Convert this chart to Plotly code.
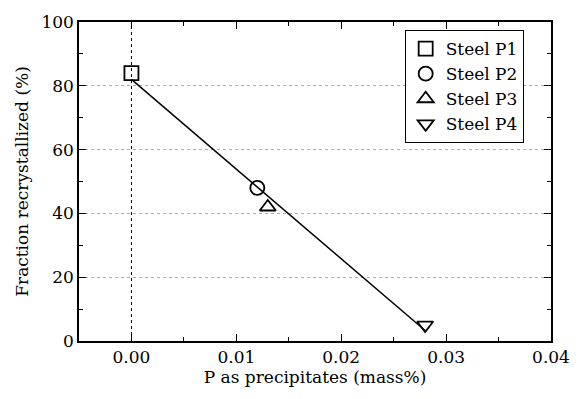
import numpy as np
import plotly.graph_objects as go

# Data
steels = ["Steel P1", "Steel P2", "Steel P3", "Steel P4"]
p_precip = [0.0, 0.012, 0.013, 0.028]
frac_rex = [84, 48, 42, 5]
symbols = ["square-open", "circle-open", "triangle-up-open", "triangle-down-open"]

x_ticks = [0.00, 0.01, 0.02, 0.03, 0.04]
x_ticklabels = ["0.00", "0.01", "0.02", "0.03", "0.04"]
y_ticks = [0, 20, 40, 60, 80, 100]

# Linear fit through the four steels
slope, intercept = np.polyfit(p_precip, frac_rex, 1)
fit_x = np.array([min(p_precip), max(p_precip)])
fit_y = slope * fit_x + intercept

FONT = "DejaVu Serif"

fig = go.Figure()
fig.add_trace(go.Scatter(x=fit_x, y=fit_y, mode="lines",
                         line=dict(color="black", width=1.5), showlegend=False,
                         hoverinfo="skip"))
for name, xv, yv, sym in zip(steels, p_precip, frac_rex, symbols):
    fig.add_trace(go.Scatter(x=[xv], y=[yv], mode="markers", name=name,
                             marker=dict(symbol=sym, size=14, color="black",
                                         line=dict(color="black", width=1.8))))

fig.add_shape(type="line", x0=0, x1=0, y0=0, y1=100, xref="x", yref="y",
              line=dict(color="black", width=1, dash="dot"), layer="below")

fig.update_layout(
    width=584, height=399,
    margin=dict(l=79, r=33, t=15, b=58),
    paper_bgcolor="white", plot_bgcolor="white",
    font=dict(family=FONT, size=17, color="black"),
    showlegend=True,
    legend=dict(x=0.69, y=0.975, xanchor="left", yanchor="top",
                bordercolor="black", borderwidth=1, bgcolor="white",
                font=dict(family=FONT, size=17, color="black"), tracegroupgap=0,
                itemwidth=30),
)
fig.update_xaxes(
    range=[-0.005, 0.04], tickvals=x_ticks, ticktext=x_ticklabels,
    showline=True, linecolor="black", linewidth=1.5, mirror="allticks",
    ticks="inside", ticklen=7, tickcolor="black", tickwidth=1,
    minor=dict(dtick=0.005, ticks="inside", ticklen=4, tickcolor="black"),
    showgrid=False, zeroline=False,
    title=dict(text="P as precipitates (mass%)", font=dict(family=FONT, size=17, color="black"),
               standoff=5),
    tickfont=dict(family=FONT, size=17, color="black"),
)
fig.update_yaxes(
    range=[0, 100], tickvals=y_ticks,
    showline=True, linecolor="black", linewidth=1.5, mirror="allticks",
    ticks="inside", ticklen=7, tickcolor="black", tickwidth=1,
    minor=dict(dtick=10, ticks="inside", ticklen=4, tickcolor="black"),
    showgrid=True, gridcolor="#aaaaaa", griddash="dot", gridwidth=1,
    zeroline=False,
    title=dict(text="Fraction recrystallized (%)", font=dict(family=FONT, size=17, color="black"),
               standoff=8),
    tickfont=dict(family=FONT, size=17, color="black"),
)

fig.write_html("out.html")
